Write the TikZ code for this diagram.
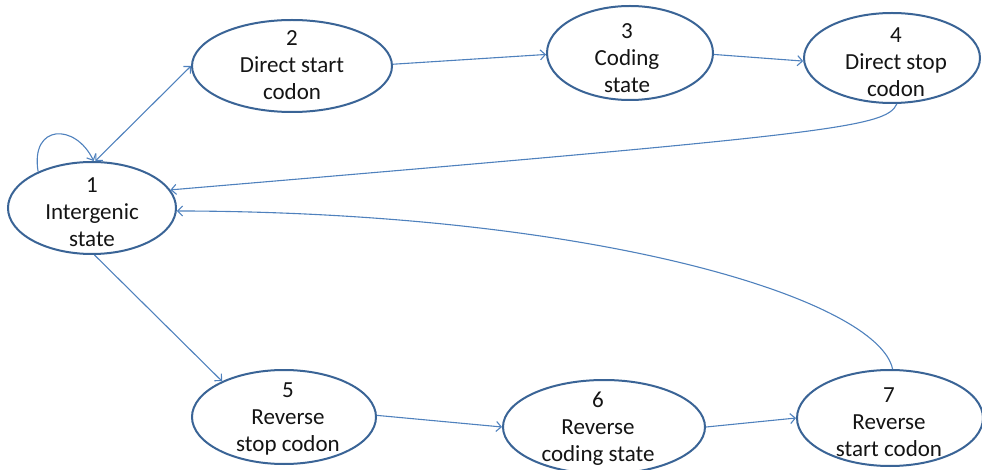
\documentclass[tikz,border=0pt]{standalone}
\usepackage{fontspec}
\setmainfont{Carlito}
\usetikzlibrary{shapes.geometric,arrows.meta}
\definecolor{nodeblue}{HTML}{3A6496}
\definecolor{edgeblue}{HTML}{4F81BD}
\definecolor{txtgray}{HTML}{141414}
\begin{document}
\begin{tikzpicture}[x=1pt,y=-1pt,
  >={Straight Barb[length=5pt,width=10pt]},
  st/.style={ellipse, draw=nodeblue, line width=2pt, fill=white, inner sep=0pt},
  lbl/.style={align=center, font=\fontsize{23}{27}\selectfont, text=txtgray, inner sep=0pt},
  edge/.style={draw=edgeblue, line width=1.1pt, ->}]
\useasboundingbox (0,0) rectangle (982,470);
% states
\node[st, minimum width=168pt, minimum height=92pt] (n1) at (92,208) {};
\node[st, minimum width=200pt, minimum height=92pt] (n2) at (292,66) {};
\node[st, minimum width=166pt, minimum height=94pt] (n3) at (630,53) {};
\node[st, minimum width=176pt, minimum height=90pt] (n4) at (892,58) {};
\node[st, minimum width=184pt, minimum height=94pt] (n5) at (284,417) {};
\node[st, minimum width=202pt, minimum height=94pt] (n6) at (604,427) {};
\node[st, minimum width=186pt, minimum height=96pt] (n7) at (890,418) {};
% labels
\node[lbl] (t1) at (92,212) {1\\Intergenic\\state};
\node[lbl] (t2) at (292,65) {2\\Direct start\\codon};
\node[lbl] (t3) at (627,58) {3\\Coding\\state};
\node[lbl] (t4) at (896,62) {4\\Direct stop\\codon};
\node[lbl] (t5) at (288,419) {5\\Reverse\\stop codon};
\node[lbl] (t6) at (598,429) {6\\Reverse\\coding state};
\node[lbl] (t7) at (889,422) {7\\Reverse\\start codon};
% transitions
\draw[edge] (n1.146) .. controls +(-8,-48) and +(-18,-38) .. (n1.88);
\draw[edge, <->] (n1.86) -- (n2.180);
\draw[edge] (n2.1) -- (n3.181);
\draw[edge] (n3.359) -- (n4.182);
\draw[edge] (n4.276) .. controls (886,128) and (830,134) .. (n1.13);
\draw[edge] (n1.273) -- (n5.150);
\draw[edge] (n5.1) -- (n6.180);
\draw[edge] (n6.0) -- (n7.180);
\draw[edge] (n7.87) .. controls (878,300) and (600,212) .. (n1.358);
\end{tikzpicture}
\end{document}
